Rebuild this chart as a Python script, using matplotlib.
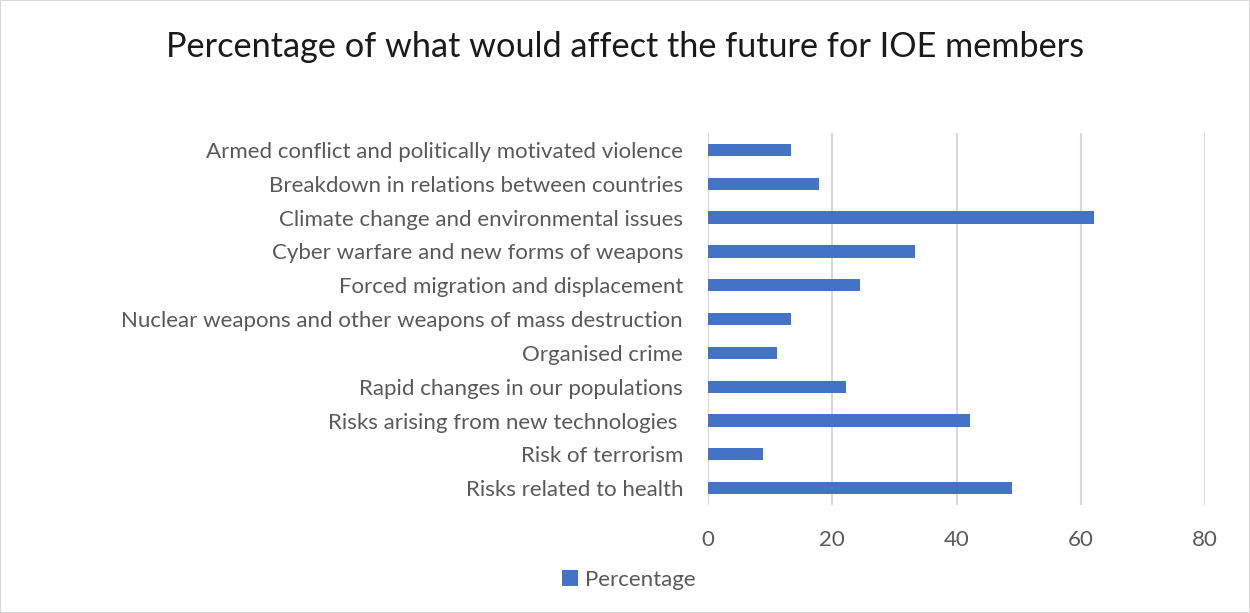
import matplotlib.pyplot as plt
from matplotlib.patches import Rectangle

plt.rcParams['font.family'] = ['Lato', 'DejaVu Sans']

categories = [
    'Armed conflict and politically motivated violence',
    'Breakdown in relations between countries',
    'Climate change and environmental issues',
    'Cyber warfare and new forms of weapons',
    'Forced migration and displacement',
    'Nuclear weapons and other weapons of mass destruction',
    'Organised crime',
    'Rapid changes in our populations',
    'Risks arising from new technologies ',
    'Risk of terrorism',
    'Risks related to health',
]
percentage = [13.3, 17.8, 62.2, 33.3, 24.4, 13.3, 11.1, 22.2, 42.2, 8.9, 48.9]
xticks = [0, 20, 40, 60, 80]

BLUE = '#4472C4'
TEXT = '#595959'

fig = plt.figure(figsize=(12.5, 6.13), dpi=100)
ax = fig.add_axes([0.5664, 0.176, 0.3976, 0.607])

pos = list(range(len(categories)))
ax.barh(pos, percentage, height=0.36, color=BLUE, zorder=3, label='Percentage')
ax.set_ylim(len(categories) - 0.5, -0.5)
ax.set_xlim(0, 80)
ax.set_xticks(xticks)
ax.set_yticks(pos)
ax.set_yticklabels(categories)
ax.grid(axis='x', color='#D9D9D9', linewidth=1.5, zorder=0)
for s in ax.spines.values():
    s.set_visible(False)
ax.tick_params(axis='both', length=0, labelsize=16, colors=TEXT)
ax.tick_params(axis='y', pad=18)
ax.tick_params(axis='x', pad=18)

fig.suptitle('Percentage of what would affect the future for IOE members',
             fontsize=24.7, y=0.95, color='#1a1a1a')

fig.legend(loc='lower center', bbox_to_anchor=(0.503, 0.005), frameon=False,
           fontsize=16, labelcolor=TEXT, handlelength=0.7, handleheight=0.7,
           handletextpad=0.3)

fig.patches.append(Rectangle((0, 0), 1, 1, transform=fig.transFigure,
                             fill=False, edgecolor='#D9D9D9', linewidth=1.5))

fig.savefig('out.png', dpi=100)
